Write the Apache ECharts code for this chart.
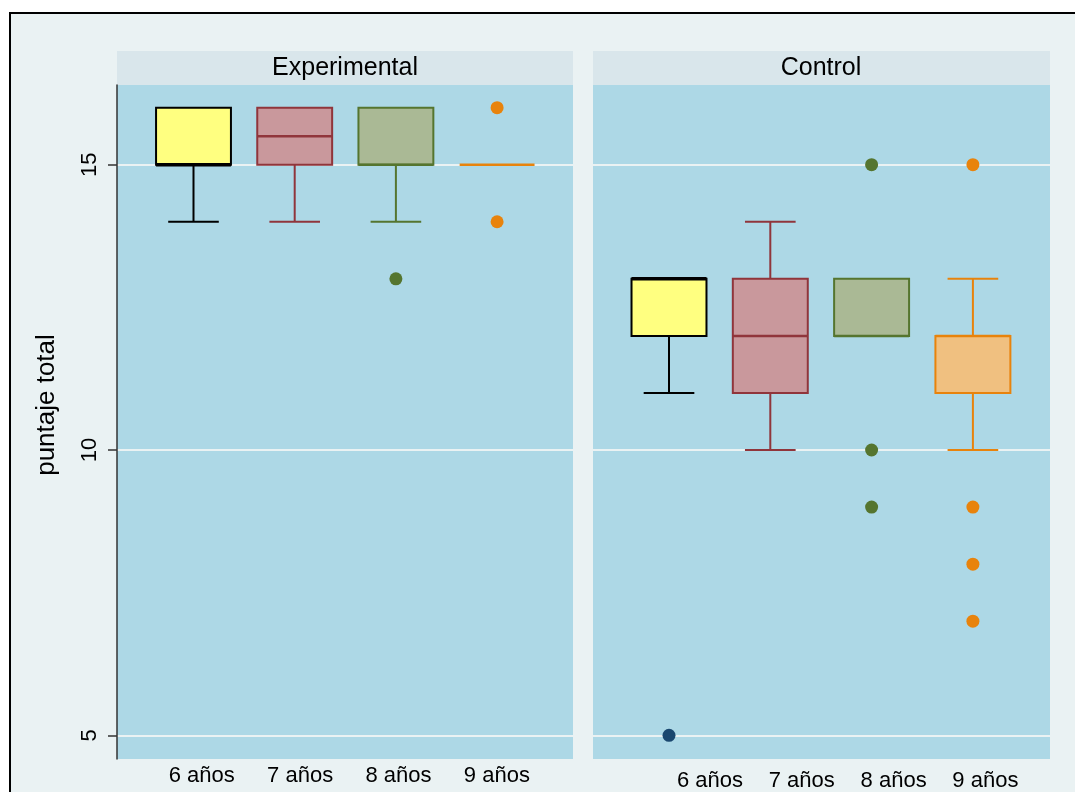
<!DOCTYPE html>
<html><head><meta charset="utf-8">
<script src="https://cdn.jsdelivr.net/npm/echarts@6/dist/echarts.min.js"></script>
<style>
html,body{margin:0;padding:0;background:#fff;overflow:hidden}
#frame{position:absolute;left:9px;top:12px;width:1120px;height:900px;border:2px solid #000;background:#eaf2f3;box-sizing:border-box}
#c{position:absolute;left:0;top:0;width:1075px;height:792px}
</style>
</head><body><div id="frame"></div><div id="c"></div>
<script>
const categories = ['6 años', '7 años', '8 años', '9 años'];
const groups = ['Experimental', 'Control'];
// [min, Q1, median, Q3, max] per category
const expBoxes = [[14, 15, 15, 16, 16], [14, 15, 15.5, 16, 16], [14, 15, 15, 16, 16], [15, 15, 15, 15, 15]];
const ctrlBoxes = [[11, 12, 13, 13, 13], [10, 11, 12, 13, 14], [12, 12, 12, 13, 13], [10, 11, 12, 12, 13]];
// outliers: [category index, value]
const expOutliers = [[2, 13], [3, 16], [3, 14]];
const ctrlOutliers = [[0, 5], [2, 15], [2, 10], [2, 9], [3, 15], [3, 9], [3, 8], [3, 7]];
const yTicks = [5, 10, 15];
const yTitle = 'puntaje total';

const boxFill = ['#ffff80', '#c9989c', '#aab995', '#f0c080'];
const boxLine = ['#000000', '#90353b', '#55752f', '#e8830c'];
const dotColor = ['#1a476f', '#90353b', '#55752f', '#e8830c'];
const FONT = '"Liberation Sans", Arial, sans-serif';
const YMIN = 4.585, YMAX = 16.397;
const TOP = 85, H = 674;

function boxData(arr) { return arr.map((b, i) => [i].concat(b)); }

function renderBox(params, api) {
  const i = api.value(0);
  const mn = api.coord([i, api.value(1)]);
  const q1 = api.coord([i, api.value(2)]);
  const md = api.coord([i, api.value(3)]);
  const q3 = api.coord([i, api.value(4)]);
  const mx = api.coord([i, api.value(5)]);
  const band = api.size([1, 0])[0];
  const bw = band * 0.74, cw = band * 0.5;
  const x = mn[0];
  const col = boxLine[i], fill = boxFill[i];
  const ls = { stroke: col, lineWidth: 2 };
  const kids = [];
  if (mx[1] < q3[1]) {
    kids.push({ type: 'line', shape: { x1: x, y1: q3[1], x2: x, y2: mx[1] }, style: ls });
    kids.push({ type: 'line', shape: { x1: x - cw / 2, y1: mx[1], x2: x + cw / 2, y2: mx[1] }, style: ls });
  }
  if (mn[1] > q1[1]) {
    kids.push({ type: 'line', shape: { x1: x, y1: q1[1], x2: x, y2: mn[1] }, style: ls });
    kids.push({ type: 'line', shape: { x1: x - cw / 2, y1: mn[1], x2: x + cw / 2, y2: mn[1] }, style: ls });
  }
  if (q1[1] - q3[1] > 0.5) {
    kids.push({ type: 'rect', shape: { x: x - bw / 2, y: q3[1], width: bw, height: q1[1] - q3[1] }, style: { fill: fill, stroke: col, lineWidth: 2 } });
  }
  kids.push({ type: 'line', shape: { x1: x - bw / 2, y1: md[1], x2: x + bw / 2, y2: md[1] }, style: { stroke: col, lineWidth: i === 0 ? 3.5 : 2.5 } });
  return { type: 'group', children: kids };
}

const chart = echarts.init(document.getElementById('c'), null, { renderer: 'canvas' });

const hiddenY = g => ({ gridIndex: g, type: 'value', min: YMIN, max: YMAX, show: false });
const hiddenCat = g => ({ gridIndex: g, type: 'category', data: categories, show: false });
const labelCat = (g, margin) => ({
  gridIndex: g, type: 'category', data: categories, position: 'bottom',
  axisLine: { show: false }, axisTick: { show: false }, splitLine: { show: false },
  axisLabel: { show: true, margin: margin, color: '#000', fontFamily: FONT, fontSize: 22 }
});

chart.setOption({
  backgroundColor: 'transparent',
  animation: false,
  grid: [
    { left: 117, top: TOP, width: 456, height: H, show: true, backgroundColor: '#add8e6', borderWidth: 0 },
    { left: 593, top: TOP, width: 457, height: H, show: true, backgroundColor: '#add8e6', borderWidth: 0 },
    { left: 142.9, top: TOP, width: 404.8, height: H },
    { left: 618.35, top: TOP, width: 405.2, height: H },
    { left: 152.5, top: TOP, width: 393.6, height: H },
    { left: 664.1, top: TOP, width: 367.2, height: H }
  ],
  xAxis: [
    { gridIndex: 0, type: 'value', show: false },
    { gridIndex: 1, type: 'value', show: false },
    hiddenCat(2), hiddenCat(3),
    labelCat(4, 6), labelCat(5, 11)
  ],
  yAxis: [
    {
      gridIndex: 0, type: 'value', min: YMIN, max: YMAX,
      name: yTitle, nameLocation: 'middle', nameGap: 57,
      nameTextStyle: { color: '#000', fontFamily: FONT, fontSize: 26, padding: [0, 0, 0, 34] },
      axisLine: { show: true, lineStyle: { color: '#333', width: 1.5 } },
      axisTick: { show: true, length: 9, customValues: yTicks, lineStyle: { color: '#333', width: 1.5 } },
      axisLabel: { show: true, customValues: yTicks, rotate: 90, margin: 16, color: '#000', fontFamily: FONT, fontSize: 22 },
      splitLine: { show: true, lineStyle: { color: '#eaf2f3', width: 2 } }
    },
    {
      gridIndex: 1, type: 'value', min: YMIN, max: YMAX,
      axisLine: { show: false },
      axisTick: { show: false, customValues: yTicks },
      axisLabel: { show: false, customValues: yTicks },
      splitLine: { show: true, lineStyle: { color: '#eaf2f3', width: 2 } }
    },
    hiddenY(2), hiddenY(3), hiddenY(4), hiddenY(5)
  ],
  graphic: [
    { type: 'rect', shape: { x: 117, y: 51, width: 456, height: 34 }, style: { fill: '#d9e6eb' }, silent: true },
    { type: 'rect', shape: { x: 593, y: 51, width: 457, height: 34 }, style: { fill: '#d9e6eb' }, silent: true },
    { type: 'text', x: 345, y: 68, style: { text: groups[0], fill: '#000', font: '25px ' + FONT, align: 'center', verticalAlign: 'middle' } },
    { type: 'text', x: 821, y: 68, style: { text: groups[1], fill: '#000', font: '25px ' + FONT, align: 'center', verticalAlign: 'middle' } }
  ],
  series: [
    { type: 'custom', name: groups[0], xAxisIndex: 2, yAxisIndex: 2, data: boxData(expBoxes), renderItem: renderBox, encode: { x: 0, y: [1, 2, 3, 4, 5] }, z: 3 },
    { type: 'custom', name: groups[1], xAxisIndex: 3, yAxisIndex: 3, data: boxData(ctrlBoxes), renderItem: renderBox, encode: { x: 0, y: [1, 2, 3, 4, 5] }, z: 3 },
    { type: 'scatter', xAxisIndex: 2, yAxisIndex: 2, data: expOutliers, symbolSize: 13, itemStyle: { color: p => dotColor[p.value[0]], opacity: 1 }, z: 4 },
    { type: 'scatter', xAxisIndex: 3, yAxisIndex: 3, data: ctrlOutliers, symbolSize: 13, itemStyle: { color: p => dotColor[p.value[0]], opacity: 1 }, z: 4 }
  ]
});
</script>
</body></html>
